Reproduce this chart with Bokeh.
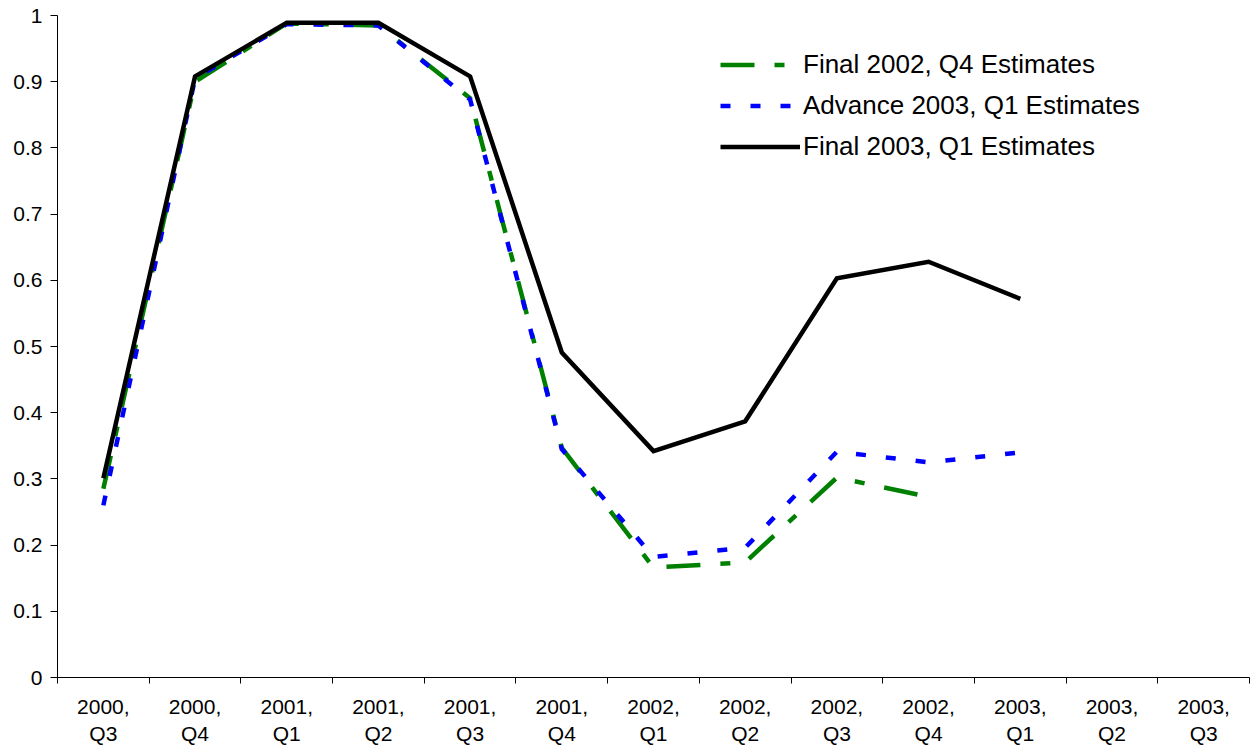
from bokeh.plotting import figure
from bokeh.models import Range1d, FixedTicker, CustomJSTickFormatter, Legend, LegendItem, ColumnDataSource
from bokeh.embed import file_html
from bokeh.resources import INLINE

quarters = ["2000,\nQ3", "2000,\nQ4", "2001,\nQ1", "2001,\nQ2", "2001,\nQ3", "2001,\nQ4",
            "2002,\nQ1", "2002,\nQ2", "2002,\nQ3", "2002,\nQ4", "2003,\nQ1", "2003,\nQ2", "2003,\nQ3"]

final_2002_q4 = [0.285, 0.900, 0.988, 0.985, 0.875, 0.347, 0.166, 0.174, 0.302, 0.273]
advance_2003_q1 = [0.260, 0.905, 0.987, 0.985, 0.873, 0.345, 0.182, 0.196, 0.341, 0.325, 0.340]
final_2003_q1 = [0.301, 0.908, 0.989, 0.989, 0.908, 0.491, 0.342, 0.387, 0.603, 0.628, 0.572]

y_ticks = [0, 0.1, 0.2, 0.3, 0.4, 0.5, 0.6, 0.7, 0.8, 0.9, 1.0]

FONT = "Liberation Sans"
n = len(quarters)

p = figure(width=1252, height=751, output_backend="svg", toolbar_location=None,
           x_range=Range1d(0, n), y_range=Range1d(0, 1),
           min_border_left=57, min_border_right=3, min_border_top=15, min_border_bottom=74)
p.outline_line_color = None
p.xgrid.visible = False
p.ygrid.visible = False
p.background_fill_color = "white"
p.border_fill_color = "white"

def xs(vals):
    return [i + 0.5 for i in range(len(vals))]

s_green = ColumnDataSource(dict(x=xs(final_2002_q4), y=final_2002_q4))
s_blue = ColumnDataSource(dict(x=xs(advance_2003_q1), y=advance_2003_q1))
s_black = ColumnDataSource(dict(x=xs(final_2003_q1), y=final_2003_q1))

r_green = p.line("x", "y", source=s_green, line_color="#008000", line_width=4.5,
                 line_dash="34 20 10 20", line_join="miter")
r_blue = p.line("x", "y", source=s_blue, line_color="#0000FF", line_width=4.5,
                line_dash="10 20", line_join="miter")
r_black = p.line("x", "y", source=s_black, line_color="#000000", line_width=4.5,
                 line_join="miter")

# x axis: labels at category centres, ticks at category boundaries
xa = p.xaxis[0]
xa.ticker = FixedTicker(ticks=[i + 0.5 for i in range(n)], minor_ticks=list(range(n + 1)))
xa.formatter = CustomJSTickFormatter(args=dict(labels=quarters),
                                     code="return labels[Math.floor(tick)];")
xa.major_tick_line_color = None
xa.major_tick_out = 0
xa.major_tick_in = 0
xa.minor_tick_in = 0
xa.minor_tick_out = 6
xa.minor_tick_line_color = "#000000"
xa.axis_line_color = "#000000"
xa.major_label_text_font = FONT
xa.major_label_text_font_size = "21px"
xa.major_label_text_color = "#000000"
xa.major_label_standoff = 11
xa.major_label_text_line_height = 1.2

ya = p.yaxis[0]
ya.ticker = FixedTicker(ticks=y_ticks, minor_ticks=[])
ya.formatter = CustomJSTickFormatter(code="return String(Math.round(tick*10)/10);")
ya.major_tick_in = 0
ya.major_tick_out = 7
ya.minor_tick_line_color = None
ya.axis_line_color = "#000000"
ya.major_tick_line_color = "#000000"
ya.major_label_text_font = FONT
ya.major_label_text_font_size = "21px"
ya.major_label_text_color = "#000000"
ya.major_label_standoff = 8

legend = Legend(items=[
    LegendItem(label="Final 2002, Q4 Estimates", renderers=[r_green]),
    LegendItem(label="Advance 2003, Q1 Estimates", renderers=[r_blue]),
    LegendItem(label="Final 2003, Q1 Estimates", renderers=[r_black]),
], location=(663, 510), orientation="vertical")
legend.border_line_color = None
legend.background_fill_alpha = 0
legend.padding = 0
legend.margin = 0
legend.spacing = 0
legend.glyph_width = 80
legend.glyph_height = 41
legend.label_height = 41
legend.label_standoff = 3
legend.label_text_font = FONT
legend.label_text_font_size = "26px"
legend.label_text_color = "#000000"
p.add_layout(legend, "center")

open("out.html", "w").write(file_html(p, INLINE))
